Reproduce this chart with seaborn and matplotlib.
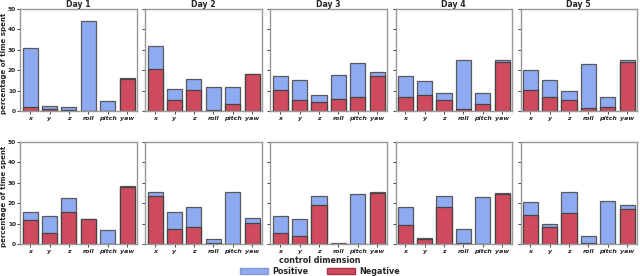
import numpy as np
import pandas as pd
import seaborn as sns
import matplotlib.pyplot as plt
from matplotlib.patches import Patch

dims = ['x', 'y', 'z', 'roll', 'pitch', 'yaw']
days = ['Day 1', 'Day 2', 'Day 3', 'Day 4', 'Day 5']

# top row: bar totals (blue) and negative part (red)
top_total = [
    [31.0, 2.5, 2.0, 44.0, 4.7, 16.0],
    [32.0, 10.7, 15.5, 11.7, 11.9, 18.3],
    [17.3, 15.3, 8.0, 17.8, 23.3, 18.9],
    [17.3, 14.5, 8.6, 25.2, 9.0, 25.2],
    [20.0, 15.0, 9.8, 23.0, 7.0, 25.1],
]
top_neg = [
    [2.0, 1.0, 0.5, 0.0, 0.0, 15.5],
    [20.5, 5.3, 10.2, 0.3, 3.3, 18.0],
    [10.1, 5.2, 4.2, 6.0, 7.0, 17.3],
    [6.7, 8.0, 5.2, 0.8, 3.6, 23.8],
    [10.3, 6.8, 5.4, 1.3, 2.0, 23.8],
]

# bottom row
bot_total = [
    [15.4, 13.5, 22.7, 12.3, 6.8, 28.6],
    [25.2, 15.6, 17.9, 2.6, 25.6, 12.8],
    [13.6, 12.3, 23.4, 0.5, 24.4, 25.3],
    [18.0, 2.9, 23.7, 7.3, 22.9, 24.8],
    [20.3, 9.9, 25.3, 4.1, 20.8, 19.3],
]
bot_neg = [
    [11.7, 5.4, 15.6, 12.2, 0.0, 27.8],
    [23.5, 7.5, 8.1, 0.6, 0.0, 10.2],
    [5.4, 4.1, 19.0, 0.0, 0.0, 25.0],
    [9.4, 2.6, 18.2, 0.3, 0.0, 24.4],
    [14.0, 8.4, 15.1, 0.3, 0.0, 17.2],
]

blue = '#8eaaf0'
red = '#d04a5e'

sns.set_style('white')
plt.rcParams['font.family'] = ['DejaVu Sans']

fig, axes = plt.subplots(2, 5, figsize=(6.4, 2.76), dpi=100, sharey=True)
fig.subplots_adjust(left=0.032, right=0.995, top=0.968, bottom=0.116,
                    wspace=0.075, hspace=0.3)

rows = [(top_total, top_neg), (bot_total, bot_neg)]
for r, (tot, neg) in enumerate(rows):
    for c in range(5):
        ax = axes[r, c]
        df = pd.DataFrame({'dim': dims, 'total': tot[c], 'neg': neg[c]})
        sns.barplot(data=df, x='dim', y='total', color=blue, ax=ax,
                    edgecolor='#5a5a5a', linewidth=0.9, width=0.78, saturation=1)
        sns.barplot(data=df, x='dim', y='neg', color=red, ax=ax,
                    edgecolor='#444444', linewidth=0.9, width=0.78, saturation=1)
        ax.set_ylim(0, 50)
        ax.set_yticks([0, 10, 20, 30, 40, 50])
        ax.set_xlabel('')
        ax.set_ylabel('')
        ax.tick_params(axis='x', length=2, width=0.6, pad=1.5, labelsize=4.5, bottom=True)
        ax.tick_params(axis='y', length=2, width=0.6, pad=1.2, labelsize=4.2, left=True)
        for lab in ax.get_xticklabels():
            lab.set_fontstyle('italic')
            lab.set_fontweight('bold')
        for lab in ax.get_yticklabels():
            lab.set_fontweight('bold')
        for s in ax.spines.values():
            s.set_color('#999999')
            s.set_linewidth(1.0)
        if r == 0:
            ax.set_title(days[c], fontsize=5.6, fontweight='bold', pad=1.5)
    axes[r, 0].set_ylabel('percentage of time spent', fontsize=5.0, fontweight='bold')
    axes[r, 0].yaxis.set_label_coords(-0.12, 0.47)

fig.text(0.5, 0.055, 'control dimension', ha='center', va='center',
         fontsize=5.8, fontweight='bold')
handles = [Patch(facecolor=blue, edgecolor='#8899cc', label='Positive'),
           Patch(facecolor=red, edgecolor='#aa3344', label='Negative')]
leg = fig.legend(handles=handles, loc='center', bbox_to_anchor=(0.5, 0.017), ncol=2,
                 frameon=False, handlelength=3.5, handleheight=0.9, columnspacing=2.2,
                 handletextpad=0.6, prop={'size': 5.8, 'weight': 'bold'},
                 borderaxespad=0, borderpad=0)

fig.savefig('out.png', dpi=100)
